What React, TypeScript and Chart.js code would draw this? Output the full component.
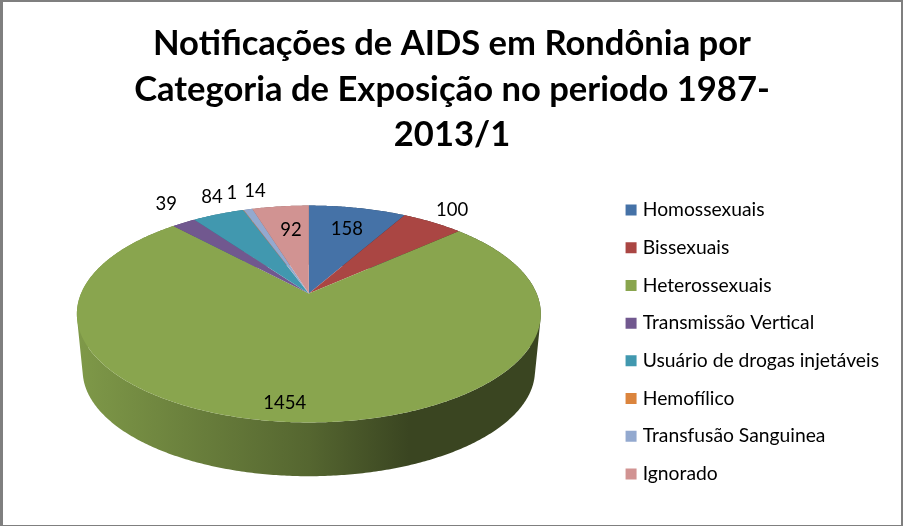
import React, { useEffect, useRef } from "react";
import { Chart, ArcElement, PieController, Legend, Title } from "chart.js";

const titleLines = ["Notificações de AIDS em Rondônia por", "Categoria de Exposição no periodo 1987-", "2013/1"];
const categories = ["Homossexuais", "Bissexuais", "Heterossexuais", "Transmissão Vertical", "Usuário de drogas injetáveis", "Hemofílico", "Transfusão Sanguinea", "Ignorado"];
const values = [158, 100, 1454, 39, 84, 1, 14, 92];
const colors = ["#4572A7", "#AA4643", "#89A54E", "#71588F", "#4198AF", "#DB843D", "#93A9CF", "#D19392"];
// placement of each value label, in pie radii from the centre and degrees from the slice's middle
const labelRadii = [0.73, 1.21, 0.87, 1.275, 1.24, 1.266, 1.246, 0.70];
const labelTurns = [0, -1, 3.5, 2.8, 2.8, 0.4, 4.6, 0.8];

const RADIUS = 227.8;
const TILT = 0.459;
const PERSPECTIVE = 0.189;
const SHIFT = -4;
const LIFT = -43;
const DEPTH = 57;
const BASE_SCALE = 0.975;

function project(el: any, angle: number, r = 1, scale = 1, drop = 0) {
  const u = Math.cos(angle) * r;
  const v = Math.sin(angle) * r;
  const w = 1 - PERSPECTIVE * v;
  return {
    x: el.x + SHIFT + (scale * el.outerRadius * u) / w,
    y: el.y + LIFT + drop + (scale * el.outerRadius * TILT * v) / w,
  };
}

function rgb(hex: string, f: number) {
  const n = parseInt(hex.slice(1), 16);
  return `rgb(${((n >> 16) & 255) * f},${((n >> 8) & 255) * f},${(n & 255) * f})`;
}

class Arc3D extends ArcElement {
  static id = "arc3d";
  drawWall(ctx: CanvasRenderingContext2D) {
    const el: any = this;
    const steps = Math.max(2, Math.ceil((el.endAngle - el.startAngle) / 0.01));
    const base = el.options.backgroundColor;
    const left = el.x + SHIFT - el.outerRadius;
    const g = ctx.createLinearGradient(left, 0, left + 2 * el.outerRadius, 0);
    g.addColorStop(0, rgb(base, 0.92));
    g.addColorStop(0.5, rgb(base, 0.62));
    g.addColorStop(0.72, rgb(base, 0.42));
    g.addColorStop(1, rgb(base, 0.42));
    ctx.beginPath();
    for (let i = 0; i < steps; i++) {
      const a0 = el.startAngle + ((el.endAngle - el.startAngle) * i) / steps;
      const a1 = el.startAngle + ((el.endAngle - el.startAngle) * (i + 1)) / steps;
      const quad = [project(el, a0), project(el, a1), project(el, a1, 1, BASE_SCALE, DEPTH), project(el, a0, 1, BASE_SCALE, DEPTH)];
      let area = 0;
      quad.forEach((p, k) => {
        const q = quad[(k + 1) % 4];
        area += p.x * q.y - q.x * p.y;
      });
      if (area < 0) quad.reverse();
      quad.forEach((p, k) => (k ? ctx.lineTo(p.x, p.y) : ctx.moveTo(p.x, p.y)));
      ctx.closePath();
    }
    ctx.fillStyle = g;
    ctx.fill();
  }
  draw(ctx: CanvasRenderingContext2D) {
    const el: any = this;
    const steps = Math.max(2, Math.ceil((el.endAngle - el.startAngle) / 0.01));
    const c = project(el, 0, 0);
    ctx.beginPath();
    ctx.moveTo(c.x, c.y);
    for (let i = 0; i <= steps; i++) {
      const p = project(el, el.startAngle + ((el.endAngle - el.startAngle) * i) / steps);
      ctx.lineTo(p.x, p.y);
    }
    ctx.closePath();
    ctx.fillStyle = el.options.backgroundColor;
    ctx.fill();
  }
}

class Pie3DController extends PieController {
  static id = "pie3d";
  static defaults = { dataElementType: "arc3d" };
  draw() {
    const ctx = (this as any).chart.ctx;
    const arcs = (this as any)._cachedMeta.data;
    ctx.save();
    arcs.forEach((a: any) => a.drawWall(ctx));
    arcs.forEach((a: any) => a.draw(ctx));
    ctx.restore();
  }
}

const valueLabels = {
  id: "valueLabels",
  afterDatasetsDraw(chart: any) {
    const { ctx } = chart;
    const arcs = chart.getDatasetMeta(0).data;
    ctx.save();
    ctx.font = "18.5px Lato";
    ctx.fillStyle = "#000";
    ctx.textAlign = "center";
    ctx.textBaseline = "middle";
    arcs.forEach((a: any, i: number) => {
      const mid = (a.startAngle + a.endAngle) / 2 + (labelTurns[i] * Math.PI) / 180;
      const p = project(a, mid, labelRadii[i]);
      ctx.fillText(String(values[i]), p.x + 1, p.y + 1);
    });
    ctx.restore();
  },
};

Chart.register(Arc3D, Pie3DController, Legend, Title);

export default function App() {
  const ref = useRef<HTMLCanvasElement>(null);
  useEffect(() => {
    const chart = new Chart(ref.current!, {
      type: "pie3d" as any,
      data: {
        labels: categories,
        datasets: [{ data: values, backgroundColor: colors, borderWidth: 0 }],
      },
      options: {
        animation: false,
        responsive: false,
        radius: RADIUS,
        layout: { padding: { left: 15, right: 14, top: 0, bottom: 24 } },
        plugins: {
          title: {
            display: true,
            text: titleLines,
            color: "#000",
            font: { family: "Lato", size: 34.6, weight: "bold", lineHeight: 1.32 },
            padding: { top: 21, bottom: 13 },
          },
          legend: {
            display: true,
            position: "right",
            align: "end",
            labels: {
              color: "#000",
              font: { family: "Lato", size: 19.3 },
              usePointStyle: true,
              pointStyle: "rect",
              boxWidth: 4,
              boxHeight: 11,
              padding: 18.4,
              generateLabels: () =>
                categories.map((text, i) => ({ text, fillStyle: colors[i], strokeStyle: colors[i], lineWidth: 0, index: i, hidden: false, pointStyle: "rect" })),
            },
          },
        },
      } as any,
      plugins: [valueLabels],
    });
    return () => chart.destroy();
  }, []);
  return (
    <div style={{ position: "fixed", left: 0, top: 0, width: 903, height: 526, background: "#fff", overflow: "hidden" }}>
      <canvas ref={ref} width={903} height={526} style={{ display: "block" }} />
      <div style={{ position: "absolute", inset: 0, boxSizing: "border-box", borderStyle: "solid", borderColor: "#7f7f7f", borderWidth: "2px 2px 1px 3px", pointerEvents: "none" }} />
    </div>
  );
}
